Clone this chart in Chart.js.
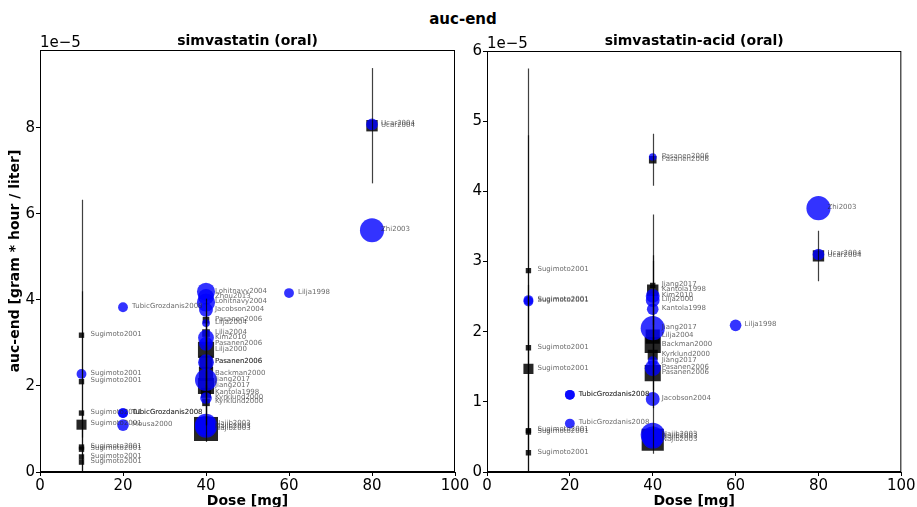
<!DOCTYPE html>
<html>
<head>
<meta charset="utf-8">
<script src="https://cdn.jsdelivr.net/npm/chart.js@4.4.1/dist/chart.umd.min.js"></script>
<style>
  body { margin: 0; background: #fff; font-family: 'DejaVu Sans', sans-serif; }
  #fig { position: relative; width: 917px; height: 507px; overflow: hidden; }
  #suptitle { position: absolute; top: 11px; left: 0; width: 926px; text-align: center;
              font-weight: bold; font-size: 15px; line-height: 17px; }
  canvas { position: absolute; top: 0; }
</style>
</head>
<body>
<div id="fig">
  <div id="suptitle">auc-end</div>
  <canvas id="left" width="475" height="507" style="left:0px"></canvas>
  <canvas id="right" width="457" height="507" style="left:460px"></canvas>
</div>
<script>
// all auc values are in units of 1e-5 gram*hour/liter, n = subjects (marker size)

// simvastatin (oral) - individual / group circles
const simvCircDose = [10, 20, 20, 20, 20, 40, 40, 40, 40, 40, 40, 40, 40, 40, 40, 40, 40, 60, 80, 80];
const simvCircAuc = [2.28, 3.83, 1.37, 1.37, 1.09, 4.19, 4.07, 3.94, 3.77, 3.46, 3.12, 2.98, 2.55, 2.14, 1.72, 1.10, 1.05, 4.16, 8.08, 5.62];
const simvCircN = [5, 5, 5, 5, 7, 17, 13, 17, 10, 3, 13, 10, 13, 25, 7, 25, 25, 5, 7, 30];
const simvCircStudy = ['Sugimoto2001', 'TubicGrozdanis2008', 'TubicGrozdanis2008', 'TubicGrozdanis2008', 'Mousa2000',
  'Lohitnavy2004', 'Zhou2013', 'Lohitnavy2004', 'Jacobson2004', 'Lilja2004', 'Kim2010', 'Pasanen2006', 'Pasanen2006',
  'Jiang2017', 'Kyrklund2000', 'Najib2003', 'Najib2003', 'Lilja1998', 'Ucar2004', 'Zhi2003'];

// simvastatin (oral) - squares with sd
const simvSqDose = [10, 10, 10, 10, 10, 10, 10, 10, 40, 40, 40, 40, 40, 40, 40, 40, 40, 80];
const simvSqAuc = [3.18, 2.10, 1.37, 1.10, 0.58, 0.53, 0.35, 0.23, 3.53, 3.23, 2.84, 2.55, 2.28, 2.00, 1.84, 1.62, 1.00, 8.05];
const simvSqSd = [3.15, 2.10, 0, 0.3, 0, 0, 0, 0, 0.5, 0.4, 0.9, 0.6, 1.2, 0.9, 0.5, 0.4, 0.3, 1.34];
const simvSqN = [2, 2, 2, 7, 2, 2, 2, 2, 3, 4, 18, 12, 14, 18, 7, 4, 40, 9];
const simvSqStudy = ['Sugimoto2001', 'Sugimoto2001', 'Sugimoto2001', 'Sugimoto2001', 'Sugimoto2001', 'Sugimoto2001',
  'Sugimoto2001', 'Sugimoto2001', 'Pasanen2006', 'Lilja2004', 'Lilja2000', 'Pasanen2006', 'Backman2000', 'Jiang2017',
  'Kantola1998', 'Kyrklund2000', 'Najib2003', 'Ucar2004'];

// simvastatin-acid (oral)
const acidCircDose = [10, 10, 20, 20, 20, 40, 40, 40, 40, 40, 40, 40, 40, 40, 40, 60, 80, 80];
const acidCircAuc = [2.45, 2.43, 1.10, 1.10, 0.69, 4.49, 2.51, 2.45, 2.32, 2.05, 1.58, 1.48, 1.04, 0.53, 0.49, 2.09, 3.76, 3.10];
const acidCircN = [5, 5, 5, 5, 5, 3, 10, 10, 7, 30, 5, 13, 10, 30, 25, 7, 30, 7];
const acidCircStudy = ['Sugimoto2001', 'Sugimoto2001', 'TubicGrozdanis2008', 'TubicGrozdanis2008', 'TubicGrozdanis2008',
  'Pasanen2006', 'Kim2010', 'Lilja2000', 'Kantola1998', 'Jiang2017', 'Jiang2017', 'Pasanen2006', 'Jacobson2004',
  'Najib2003', 'Najib2003', 'Lilja1998', 'Zhi2003', 'Ucar2004'];

const acidSqDose = [10, 10, 10, 10, 10, 10, 40, 40, 40, 40, 40, 40, 40, 40, 80];
const acidSqAuc = [2.87, 1.77, 1.47, 0.59, 0.57, 0.275, 4.45, 2.66, 2.59, 1.93, 1.81, 1.67, 1.41, 0.46, 3.08];
const acidSqSd = [2.88, 3.03, 1.2, 0, 0, 0, 0.37, 1.01, 0.5, 0.6, 1.2, 0.5, 0.5, 0.2, 0.36];
const acidSqN = [2, 2, 7, 2, 2, 2, 4, 2, 9, 14, 18, 7, 18, 34, 9];
const acidSqStudy = ['Sugimoto2001', 'Sugimoto2001', 'Sugimoto2001', 'Sugimoto2001', 'Sugimoto2001', 'Sugimoto2001',
  'Pasanen2006', 'Jiang2017', 'Kantola1998', 'Lilja2004', 'Backman2000', 'Kyrklund2000', 'Pasanen2006',
  'Najib2003', 'Ucar2004'];

const doseTicks = [0, 20, 40, 60, 80, 100];

Chart.defaults.font.family = "'DejaVu Sans', sans-serif";
Chart.defaults.color = '#000';

const circR = n => 2.2 * Math.sqrt(n);
const rectR = n => 1.9 * Math.sqrt(n) * Math.SQRT2;
const toPts = (dose, auc) => dose.map((d, i) => ({ x: d, y: auc[i] }));

// error bars, study labels, frame, panel title and offset text
const panelDeco = {
  id: 'panelDeco',
  afterDatasetsDraw(chart, args, opts) {
    const { ctx, chartArea: a, scales: { x, y } } = chart;
    ctx.save();
    ctx.beginPath();
    ctx.rect(a.left, a.top, a.right - a.left, a.bottom - a.top);
    ctx.clip();
    ctx.strokeStyle = 'rgba(0,0,0,0.75)';
    ctx.lineWidth = 1.2;
    chart.data.datasets.forEach(ds => {
      if (!ds.sd) return;
      ds.data.forEach((p, i) => {
        const sd = ds.sd[i];
        if (!sd) return;
        const px = Math.round(x.getPixelForValue(p.x)) + 0.5;
        ctx.beginPath();
        ctx.moveTo(px, y.getPixelForValue(p.y - sd));
        ctx.lineTo(px, y.getPixelForValue(p.y + sd));
        ctx.stroke();
      });
    });
    ctx.restore();

    ctx.save();
    ctx.font = '7px "DejaVu Sans"';
    ctx.fillStyle = 'rgba(40,40,40,0.7)';
    ctx.textBaseline = 'middle';
    chart.data.datasets.forEach((ds, di) => {
      chart.getDatasetMeta(di).data.forEach((el, i) => {
        ctx.fillText(ds.study[i], el.x + 9, el.y - 1);
      });
    });

    ctx.strokeStyle = '#000';
    ctx.lineWidth = 1;
    ctx.strokeRect(a.left + 0.5, a.top + 0.5, a.right - a.left - 1, a.bottom - a.top - 1);

    ctx.fillStyle = '#000';
    ctx.font = 'bold 14px "DejaVu Sans"';
    ctx.textAlign = 'center';
    ctx.textBaseline = 'middle';
    ctx.fillText(opts.title, (a.left + a.right) / 2, 41);
    ctx.font = '15px "DejaVu Sans"';
    ctx.textAlign = 'left';
    ctx.textBaseline = 'alphabetic';
    ctx.fillText('1e\u22125', a.left, a.top - 3);
    ctx.restore();
  }
};

function makePanel(id, cfg) {
  return new Chart(document.getElementById(id), {
    type: 'scatter',
    data: {
      datasets: [{
        data: toPts(cfg.circDose, cfg.circAuc),
        study: cfg.circStudy,
        pointStyle: 'circle',
        pointRadius: cfg.circN.map(circR),
        backgroundColor: 'rgba(0,0,255,0.8)',
        borderWidth: 0
      }, {
        data: toPts(cfg.sqDose, cfg.sqAuc),
        study: cfg.sqStudy,
        sd: cfg.sqSd,
        pointStyle: 'rect',
        pointRadius: cfg.sqN.map(rectR),
        backgroundColor: 'rgba(0,0,0,0.85)',
        borderWidth: 0
      }]
    },
    options: {
      responsive: false,
      animation: false,
      events: [],
      layout: { padding: { left: 0, right: cfg.padRight, top: cfg.padTop, bottom: 0 } },
      plugins: { legend: { display: false }, tooltip: { enabled: false }, panelDeco: { title: cfg.title } },
      scales: {
        x: {
          type: 'linear', min: 0, max: 100,
          afterBuildTicks: s => { s.ticks = doseTicks.map(v => ({ value: v })); },
          ticks: { font: { size: 15 }, padding: 1, maxRotation: 0 },
          grid: { drawOnChartArea: false, tickLength: 4, color: '#000' },
          border: { color: '#000' },
          title: { display: true, text: 'Dose [mg]', font: { size: 14, weight: 'bold' }, padding: { top: 0, bottom: -3 } },
          afterFit: s => { s.height = 35; }
        },
        y: {
          type: 'linear', min: 0, max: cfg.yMax,
          ticks: { stepSize: cfg.yStep, includeBounds: false, font: { size: 15 }, padding: 1 },
          grid: { drawOnChartArea: false, tickLength: 4, color: '#000' },
          border: { color: '#000' },
          title: { display: cfg.yTitle, text: 'auc-end [gram * hour / liter]', font: { size: 14, weight: 'bold' }, padding: { top: 7, bottom: 0 } },
          afterFit: s => { s.width = cfg.yWidth; }
        }
      }
    },
    plugins: [panelDeco]
  });
}

makePanel('left', {
  title: 'simvastatin (oral)',
  circDose: simvCircDose, circAuc: simvCircAuc, circN: simvCircN, circStudy: simvCircStudy,
  sqDose: simvSqDose, sqAuc: simvSqAuc, sqSd: simvSqSd, sqN: simvSqN, sqStudy: simvSqStudy,
  yMax: 9.81, yStep: 2, yTitle: true, yWidth: 40, padRight: 20, padTop: 50
});

makePanel('right', {
  title: 'simvastatin-acid (oral)',
  circDose: acidCircDose, circAuc: acidCircAuc, circN: acidCircN, circStudy: acidCircStudy,
  sqDose: acidSqDose, sqAuc: acidSqAuc, sqSd: acidSqSd, sqN: acidSqN, sqStudy: acidSqStudy,
  yMax: 6, yStep: 1, yTitle: false, yWidth: 27, padRight: 14, padTop: 51
});
</script>
</body>
</html>
